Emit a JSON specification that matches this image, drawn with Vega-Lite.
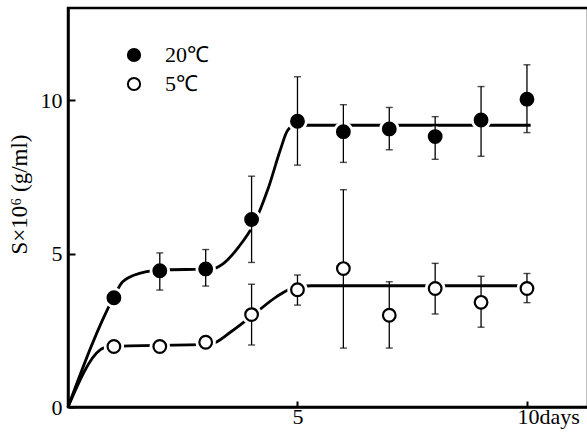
{
  "$schema": "https://vega.github.io/schema/vega-lite/v6.json",
  "width": 520,
  "height": 399,
  "autosize": {"type": "none"},
  "padding": {"left": 68, "top": 8, "right": 0, "bottom": 30},
  "background": "white",
  "config": {
    "view": {"stroke": "black", "strokeWidth": 2.5},
    "font": "Liberation Serif"
  },
  "datasets": {
    "pts": [
      {"day": 1, "temp": "20℃", "s": 3.56, "lo": null, "hi": null},
      {"day": 2, "temp": "20℃", "s": 4.44, "lo": 3.81, "hi": 5.02},
      {"day": 3, "temp": "20℃", "s": 4.5, "lo": 3.94, "hi": 5.13},
      {"day": 4, "temp": "20℃", "s": 6.11, "lo": 4.71, "hi": 7.52},
      {"day": 5, "temp": "20℃", "s": 9.31, "lo": 7.88, "hi": 10.76},
      {"day": 6, "temp": "20℃", "s": 8.97, "lo": 7.97, "hi": 9.85},
      {"day": 7, "temp": "20℃", "s": 9.06, "lo": 8.38, "hi": 9.76},
      {"day": 8, "temp": "20℃", "s": 8.81, "lo": 8.07, "hi": 9.46},
      {"day": 9, "temp": "20℃", "s": 9.35, "lo": 8.17, "hi": 10.44},
      {"day": 10, "temp": "20℃", "s": 10.03, "lo": 8.94, "hi": 11.15},
      {"day": 1, "temp": "5℃", "s": 1.97, "lo": null, "hi": null},
      {"day": 2, "temp": "5℃", "s": 1.97, "lo": null, "hi": null},
      {"day": 3, "temp": "5℃", "s": 2.11, "lo": null, "hi": null},
      {"day": 4, "temp": "5℃", "s": 3.01, "lo": 2.02, "hi": 4.0},
      {"day": 5, "temp": "5℃", "s": 3.82, "lo": 3.32, "hi": 4.3},
      {"day": 6, "temp": "5℃", "s": 4.51, "lo": 1.92, "hi": 7.08},
      {"day": 7, "temp": "5℃", "s": 2.99, "lo": 1.92, "hi": 4.08},
      {"day": 8, "temp": "5℃", "s": 3.86, "lo": 3.03, "hi": 4.68},
      {"day": 9, "temp": "5℃", "s": 3.41, "lo": 2.6, "hi": 4.26},
      {"day": 10, "temp": "5℃", "s": 3.86, "lo": 3.4, "hi": 4.35}
    ],
    "curve": [
      {"temp": "20℃", "day": 0, "s": 0},
      {"temp": "20℃", "day": 0.99, "s": 3.56},
      {"temp": "20℃", "day": 1.19, "s": 4.08},
      {"temp": "20℃", "day": 1.6, "s": 4.37},
      {"temp": "20℃", "day": 2.0, "s": 4.46},
      {"temp": "20℃", "day": 3.15, "s": 4.5},
      {"temp": "20℃", "day": 3.39, "s": 4.68},
      {"temp": "20℃", "day": 3.72, "s": 5.22},
      {"temp": "20℃", "day": 4.05, "s": 5.97},
      {"temp": "20℃", "day": 4.37, "s": 7.16},
      {"temp": "20℃", "day": 4.62, "s": 8.35},
      {"temp": "20℃", "day": 4.78, "s": 9.0},
      {"temp": "20℃", "day": 4.94, "s": 9.18},
      {"temp": "20℃", "day": 10.08, "s": 9.18},
      {"temp": "5℃", "day": 0, "s": 0},
      {"temp": "5℃", "day": 0.7, "s": 1.86},
      {"temp": "5℃", "day": 0.86, "s": 1.97},
      {"temp": "5℃", "day": 3.1, "s": 2.05},
      {"temp": "5℃", "day": 3.56, "s": 2.46},
      {"temp": "5℃", "day": 4.05, "s": 3.02},
      {"temp": "5℃", "day": 4.54, "s": 3.59},
      {"temp": "5℃", "day": 4.94, "s": 3.9},
      {"temp": "5℃", "day": 5.3, "s": 3.95},
      {"temp": "5℃", "day": 10.08, "s": 3.95}
    ]
  },
  "encoding": {
    "x": {
      "field": "day", "type": "quantitative",
      "scale": {"domain": [0, 11.33], "nice": false, "zero": false},
      "axis": {
        "title": null, "grid": false, "values": [5, 10],
        "labelExpr": "datum.value == 10 ? '10days' : datum.label",
        "labelFont": "Liberation Serif", "labelFontSize": 22, "labelColor": "black",
        "labelAlign": {"condition": {"test": "datum.value == 10", "value": "left"}, "value": "center"},
        "labelOffset": {"condition": {"test": "datum.value == 10", "value": -10}, "value": 0},
        "labelPadding": 5,
        "tickSize": -6, "tickWidth": 2, "tickColor": "black",
        "domainColor": "black", "domainWidth": 2.5
      }
    },
    "y": {
      "field": "s", "type": "quantitative",
      "scale": {"domain": [0, 13], "nice": false, "zero": false},
      "axis": {
        "grid": false, "values": [0, 5, 10],
        "labelFont": "Liberation Serif", "labelFontSize": 22, "labelColor": "black",
        "labelPadding": 13,
        "tickSize": -7, "tickWidth": 2, "tickColor": "black",
        "domainColor": "black", "domainWidth": 2.5,
        "title": "S×10⁶ (g/ml)",
        "titleFont": "Liberation Serif", "titleFontSize": 23, "titleFontWeight": "normal", "titleColor": "black",
        "titleAngle": 270, "titleX": -49, "titleY": 186, "titleAlign": "center", "titleBaseline": "middle"
      }
    }
  },
  "layer": [
    {
      "data": {"name": "curve"},
      "mark": {"type": "line", "interpolate": "monotone", "color": "black", "strokeWidth": 2.8},
      "encoding": {"detail": {"field": "temp"}}
    },
    {
      "data": {"name": "pts"},
      "mark": {"type": "point", "filled": true, "fill": "white", "stroke": null, "strokeWidth": 0, "size": 420, "opacity": 1},
      "encoding": {}
    },
    {
      "data": {"name": "pts"},
      "transform": [{"filter": "datum.lo != null"}],
      "mark": {"type": "rule", "color": "black", "strokeWidth": 1.3},
      "encoding": {"y": {"field": "lo", "type": "quantitative"}, "y2": {"field": "hi"}}
    },
    {
      "data": {"name": "pts"},
      "transform": [{"filter": "datum.lo != null"}],
      "mark": {"type": "tick", "orient": "horizontal", "color": "black", "size": 7, "thickness": 1.4},
      "encoding": {"y": {"field": "lo", "type": "quantitative"}}
    },
    {
      "data": {"name": "pts"},
      "transform": [{"filter": "datum.lo != null"}],
      "mark": {"type": "tick", "orient": "horizontal", "color": "black", "size": 7, "thickness": 1.4},
      "encoding": {"y": {"field": "hi", "type": "quantitative"}}
    },
    {
      "data": {"name": "pts"},
      "mark": {"type": "point", "filled": true, "stroke": "black", "strokeWidth": 2.2, "size": 160, "opacity": 1},
      "encoding": {
        "fill": {
          "field": "temp", "type": "nominal",
          "scale": {"domain": ["20℃", "5℃"], "range": ["black", "white"]},
          "legend": {
            "title": null, "orient": "none", "legendX": 55, "legendY": 36,
            "symbolType": "circle", "symbolSize": 150, "symbolStrokeColor": "black", "symbolStrokeWidth": 2,
            "labelFont": "Liberation Serif", "labelFontSize": 22, "labelColor": "black",
            "labelOffset": 20, "rowPadding": 7,
            "labelExpr": "datum.label == '5℃' ? ' 5℃' : datum.label"
          }
        }
      }
    }
  ]
}
